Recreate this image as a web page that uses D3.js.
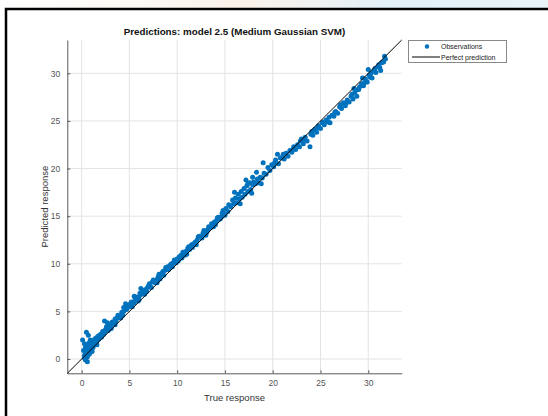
<!DOCTYPE html>
<html><head><meta charset="utf-8">
<script src="https://cdn.jsdelivr.net/npm/d3@7"></script>
<style>html,body{margin:0;padding:0;background:#fff;}svg{display:block;}</style>
</head><body>
<script>
const title = "Predictions: model 2.5 (Medium Gaussian SVM)";
const xLabel = "True response";
const yLabel = "Predicted response";
const tickValues = [0, 5, 10, 15, 20, 25, 30];
const axisDomain = [-1.5, 33.5];
const legendLabels = ["Observations", "Perfect prediction"];

const trueResp = [
0.3,0.3,0.4,0.4,0.5,0.5,0.5,0.6,0.6,0.7,0.7,0.8,0.8,0.9,0.9,1.0,1.0,1.1,1.2,1.3,1.4,1.5,1.6,1.7,1.8,2.0,2.1,2.2,2.4,2.5,
0.1,0.5,0.7,0.3,0.2,2.4,0.4,0.6,
2.7,2.9,3.0,3.2,3.4,3.5,3.7,3.9,4.0,4.2,4.4,4.5,4.7,4.9,5.0,5.2,5.4,5.6,5.8,6.0,6.1,6.3,6.5,6.7,6.9,7.0,7.2,7.4,7.6,7.8,8.0,8.1,8.3,8.5,8.7,8.9,9.0,9.2,9.4,9.6,9.8,10.0,
3.1,4.1,5.3,6.6,7.9,5.5,6.2,4.6,
1.0,1.2,1.5,1.9,2.3,2.6,2.8,3.3,3.6,3.8,4.3,4.8,5.1,5.5,5.7,5.9,6.4,6.8,7.1,7.3,7.5,7.7,8.2,8.4,8.6,8.8,9.1,9.3,9.5,9.7,9.9,0.8,1.1,1.4,2.7,3.5,4.4,6.0,1.6,0.9,
10.2,10.4,10.5,10.7,10.9,11.1,11.3,11.5,11.7,11.9,12.1,12.3,12.5,12.7,12.9,13.1,13.3,13.5,13.7,13.9,14.1,14.3,14.5,14.7,14.9,11.0,12.0,13.0,14.0,
10.1,10.6,10.8,11.2,11.6,12.2,12.6,12.8,13.2,13.6,13.8,14.2,14.6,14.8,15.0,
15.1,15.3,15.4,15.6,15.8,15.9,16.1,16.2,16.4,16.5,16.7,16.8,17.0,17.1,17.3,17.4,17.6,17.7,17.9,18.0,18.2,18.4,18.5,18.7,18.9,19.1,19.3,19.5,19.7,19.9,20.1,20.3,20.5,20.6,20.8,16.0,17.2,18.3,19.0,16.6,17.8,18.8,17.9,17.4,
21.0,21.2,21.4,21.6,21.8,22.0,22.2,22.4,22.6,22.8,23.0,23.2,23.4,23.6,23.9,24.0,24.2,24.4,24.6,24.8,25.0,25.2,25.4,25.6,25.8,26.0,26.2,26.4,
26.6,26.8,27.0,27.2,27.4,27.6,27.8,28.0,28.2,28.4,28.6,28.8,29.0,29.1,29.3,29.5,29.7,29.9,30.1,30.3,30.4,30.6,30.8,31.0,31.2,31.4,31.6,31.8,31.7,31.3,30.0,29.4,28.5,
20.2,21.1,22.1,22.9,23.3,24.1,24.7,25.3,25.9,26.5,27.1,27.7,28.3,28.9,29.6,30.2,30.7,31.1,31.5
];
const predResp = [
0.1,0.4,0.8,1.2,0.3,0.6,1.0,1.4,0.2,0.9,1.6,0.5,1.1,1.3,0.7,1.8,1.0,1.5,1.2,2.0,1.6,2.2,1.9,2.4,2.1,2.6,2.3,2.9,2.8,3.1,
2.0,2.8,2.5,1.6,0.9,4.0,-0.1,-0.3,
3.3,3.6,3.4,3.9,3.8,4.2,4.3,4.5,4.4,4.9,5.0,5.3,5.2,5.6,5.5,6.0,5.9,6.3,6.4,6.5,6.9,6.8,7.2,7.3,7.5,7.7,7.6,8.1,8.2,8.3,8.6,8.9,8.8,9.2,9.3,9.4,9.7,9.6,10.0,10.1,10.3,10.5,
3.2,4.3,5.5,6.8,8.0,6.6,7.4,5.8,
1.5,1.9,1.8,2.5,2.6,3.4,3.0,3.7,4.0,4.6,4.6,5.5,5.8,5.9,6.5,6.1,7.1,7.1,7.9,7.5,8.3,8.0,8.4,9.0,8.8,9.6,9.4,9.9,9.7,10.4,10.1,1.7,0.8,2.1,3.8,3.6,5.4,6.2,1.5,2.0,
10.7,10.9,10.6,11.2,11.3,11.6,11.5,12.0,12.1,12.3,12.5,12.9,12.8,13.2,13.4,13.3,13.9,13.8,14.1,14.4,14.5,14.9,14.7,15.3,15.2,11.0,12.0,13.0,14.1,
10.3,11.2,10.9,11.8,11.7,12.8,12.7,13.5,13.6,14.2,13.9,14.8,14.9,15.6,15.1,
15.8,15.5,16.2,16.0,16.7,16.3,16.9,16.4,17.3,16.8,17.6,17.0,17.9,17.3,18.2,17.6,18.5,17.8,18.3,18.6,18.4,18.9,18.5,19.1,19.0,19.5,19.4,20.1,19.8,20.4,20.2,20.9,21.5,20.5,21.1,17.5,18.8,19.6,20.6,16.3,17.4,18.4,19.1,18.4,
21.2,21.0,21.6,21.3,21.9,21.7,22.3,22.0,22.5,22.3,23.1,22.6,23.3,22.9,22.3,23.6,23.5,24.1,23.8,24.5,24.2,24.8,24.6,25.1,24.9,24.8,25.6,25.5,
26.0,25.8,26.5,26.3,26.9,26.6,27.2,27.0,27.6,27.3,28.0,27.6,28.3,28.6,28.9,28.7,29.4,29.1,29.8,30.0,29.5,30.3,30.1,30.7,30.6,31.1,31.2,31.5,31.8,30.3,30.4,29.5,28.4,
20.6,21.5,22.0,22.9,23.0,23.9,24.3,24.9,25.4,25.9,26.7,26.9,27.8,28.3,29.0,29.6,30.5,30.9,31.2
];

const W = 548, H = 416;
const svg = d3.select("body").append("svg").attr("width", W).attr("height", H);

// faint background strip above frame
const defs = svg.append("defs");
const grad = defs.append("linearGradient").attr("id", "topg").attr("x1", "0").attr("x2", "1");
grad.append("stop").attr("offset", "0").attr("stop-color", "#ffffff");
grad.append("stop").attr("offset", "0.45").attr("stop-color", "#fbf3ea");
grad.append("stop").attr("offset", "0.7").attr("stop-color", "#e3f1f8");
grad.append("stop").attr("offset", "1").attr("stop-color", "#e8f3f8");
svg.append("rect").attr("x", 0).attr("y", 0).attr("width", W).attr("height", 8).attr("fill", "url(#topg)");

// frame
svg.append("path").attr("d", `M6,${H} L6,9 L${W},9`).attr("fill", "none").attr("stroke", "#000").attr("stroke-width", 2.5);

const pLeft = 67.3, pRight = 401.7, pTop = 40, pBottom = 373.3;
const x = d3.scaleLinear().domain(axisDomain).range([pLeft, pRight]);
const y = d3.scaleLinear().domain(axisDomain).range([pBottom, pTop]);

// grid
const g = svg.append("g");
g.selectAll("line.vg").data(tickValues).join("line")
  .attr("x1", d => x(d)).attr("x2", d => x(d)).attr("y1", pTop).attr("y2", pBottom)
  .attr("stroke", "#e3e3e3").attr("stroke-width", 1);
g.selectAll("line.hg").data(tickValues).join("line")
  .attr("y1", d => y(d)).attr("y2", d => y(d)).attr("x1", pLeft).attr("x2", pRight)
  .attr("stroke", "#e3e3e3").attr("stroke-width", 1);

// axes
const xAxis = d3.axisBottom(x).tickValues(tickValues).tickSizeInner(-3).tickSizeOuter(0).tickPadding(7);
const yAxis = d3.axisLeft(y).tickValues(tickValues).tickSizeInner(-3).tickSizeOuter(0).tickPadding(7);
const gx = svg.append("g").attr("transform", `translate(0,${pBottom})`).call(xAxis);
const gy = svg.append("g").attr("transform", `translate(${pLeft},0)`).call(yAxis);
[gx, gy].forEach(a => {
  a.select(".domain").attr("stroke", "#5a5a5a").attr("stroke-width", 1);
  a.selectAll(".tick line").attr("stroke", "#5a5a5a");
  a.selectAll(".tick text").attr("fill", "#555").attr("font-family", "Liberation Sans, Arial, sans-serif").attr("font-size", 8.5);
});

// points
const pts = trueResp.map((t, i) => ({t, p: predResp[i]}));
svg.append("g").selectAll("circle").data(pts).join("circle")
  .attr("cx", d => x(d.t)).attr("cy", d => y(d.p)).attr("r", 2.5)
  .attr("fill", "#0072BD");

// perfect prediction line
svg.append("line")
  .attr("x1", x(axisDomain[0])).attr("y1", y(axisDomain[0]))
  .attr("x2", x(axisDomain[1])).attr("y2", y(axisDomain[1]))
  .attr("stroke", "#000").attr("stroke-width", 1);

// title and labels
const ff = "Liberation Sans, Arial, sans-serif";
svg.append("text").attr("x", (pLeft + pRight) / 2).attr("y", 35).attr("text-anchor", "middle")
  .attr("font-family", ff).attr("font-weight", "bold").attr("font-size", 9.8).attr("fill", "#111").text(title);
svg.append("text").attr("x", (pLeft + pRight) / 2).attr("y", 401).attr("text-anchor", "middle")
  .attr("font-family", ff).attr("font-size", 9.5).attr("fill", "#333").text(xLabel);
svg.append("text").attr("transform", `translate(48,${(pTop + pBottom) / 2}) rotate(-90)`).attr("text-anchor", "middle")
  .attr("font-family", ff).attr("font-size", 9.5).attr("fill", "#333").text(yLabel);

// legend
const lg = svg.append("g");
lg.append("rect").attr("x", 408.5).attr("y", 40.5).attr("width", 98).attr("height", 22)
  .attr("fill", "#fff").attr("stroke", "#888").attr("stroke-width", 1);
lg.append("circle").attr("cx", 427).attr("cy", 46.5).attr("r", 2.2).attr("fill", "#0072BD");
lg.append("line").attr("x1", 412).attr("x2", 440).attr("y1", 57).attr("y2", 57).attr("stroke", "#000").attr("stroke-width", 1);
lg.append("text").attr("x", 441).attr("y", 49).attr("font-family", ff).attr("font-size", 7).attr("fill", "#222").text(legendLabels[0]);
lg.append("text").attr("x", 441).attr("y", 59.5).attr("font-family", ff).attr("font-size", 7).attr("fill", "#222").text(legendLabels[1]);
</script>
</body></html>
